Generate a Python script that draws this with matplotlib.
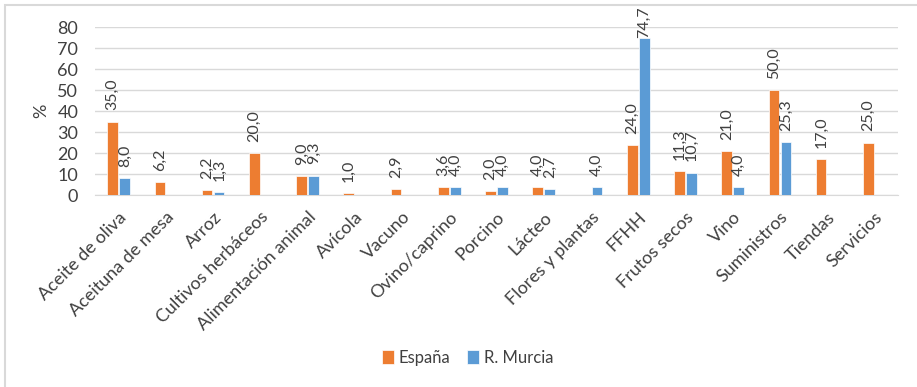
import numpy as np
import matplotlib
matplotlib.use('Agg')
import matplotlib.pyplot as plt
from matplotlib.patches import Rectangle

plt.rcParams['font.family'] = ['Lato', 'DejaVu Sans']

# ── Data ─────────────────────────────────────────────────────────────────────
categories = ['Aceite de oliva', 'Aceituna de mesa', 'Arroz', 'Cultivos herbáceos',
              'Alimentación animal', 'Avícola', 'Vacuno', 'Ovino/caprino', 'Porcino',
              'Lácteo', 'Flores y plantas', 'FFHH', 'Frutos secos', 'Vino',
              'Suministros', 'Tiendas', 'Servicios']
espana = [35.0, 6.2, 2.2, 20.0, 9.0, 1.0, 2.9, 3.6, 2.0, 4.0, np.nan,
          24.0, 11.3, 21.0, 50.0, 17.0, 25.0]
murcia = [8.0, np.nan, 1.3, np.nan, 9.3, np.nan, np.nan, 4.0, 4.0, 2.7, 4.0,
          74.7, 10.7, 4.0, 25.3, np.nan, np.nan]
yticks = [0, 10, 20, 30, 40, 50, 60, 70, 80]

ORANGE = '#ED7D31'
BLUE = '#5B9BD5'
TXT = '#404040'

fig = plt.figure(figsize=(9.17, 3.87), dpi=100)
ax = fig.add_axes([0.1036, 0.496, 0.8757, 0.434])

# outer chart frame (only top/left visible in the reference crop)
fig.patches.append(Rectangle((5 / 917, -0.1), 1.2, 1 - 5 / 387 + 0.1,
                             transform=fig.transFigure, fill=False,
                             edgecolor='#D9D9D9', lw=1.5))

x = np.arange(len(categories))
w = 0.225
gap = 0.03
b1 = ax.bar(x - (w + gap) / 2, espana, w, color=ORANGE, edgecolor='white',
            lw=0.5, label='España', zorder=3)
b2 = ax.bar(x + (w + gap) / 2, murcia, w, color=BLUE, edgecolor='white',
            lw=0.5, label='R. Murcia', zorder=3)

for bars, vals in ((b1, espana), (b2, murcia)):
    for bar, v in zip(bars, vals):
        if np.isnan(v):
            continue
        # labels near the top are pushed down to stay inside the chart
        off = 8 if v < 70 else 0
        ax.annotate(f'{v:.1f}'.replace('.', ','),
                    (bar.get_x() + bar.get_width() / 2, v),
                    textcoords='offset points', xytext=(0, off),
                    rotation=90, ha='center', va='bottom',
                    fontsize=11.5, color=TXT, annotation_clip=False)

ax.set_xlim(-0.5, len(categories) - 0.5)
ax.set_ylim(0, 80)
ax.set_yticks(yticks)
ax.tick_params(axis='y', length=0, labelsize=13, colors=TXT, pad=12)
ax.set_xticks(x)
ax.set_xticklabels(categories, rotation=45, ha='right', rotation_mode='anchor',
                   fontsize=13, color=TXT)
ax.tick_params(axis='x', length=0, pad=10)
ax.set_ylabel('%', fontsize=13, color=TXT, labelpad=6)
ax.grid(axis='y', color='#D9D9D9', lw=1, zorder=0)
for s in ('top', 'right', 'left'):
    ax.spines[s].set_visible(False)
ax.spines['bottom'].set_color('#D9D9D9')

fig.legend(loc='center', bbox_to_anchor=(0.51, 0.075), ncol=2, frameon=False,
           fontsize=12, handlelength=0.7, handleheight=0.9, handletextpad=0.3,
           columnspacing=1.0, labelcolor=TXT)

plt.savefig('out.png', dpi=100)
plt.close()
